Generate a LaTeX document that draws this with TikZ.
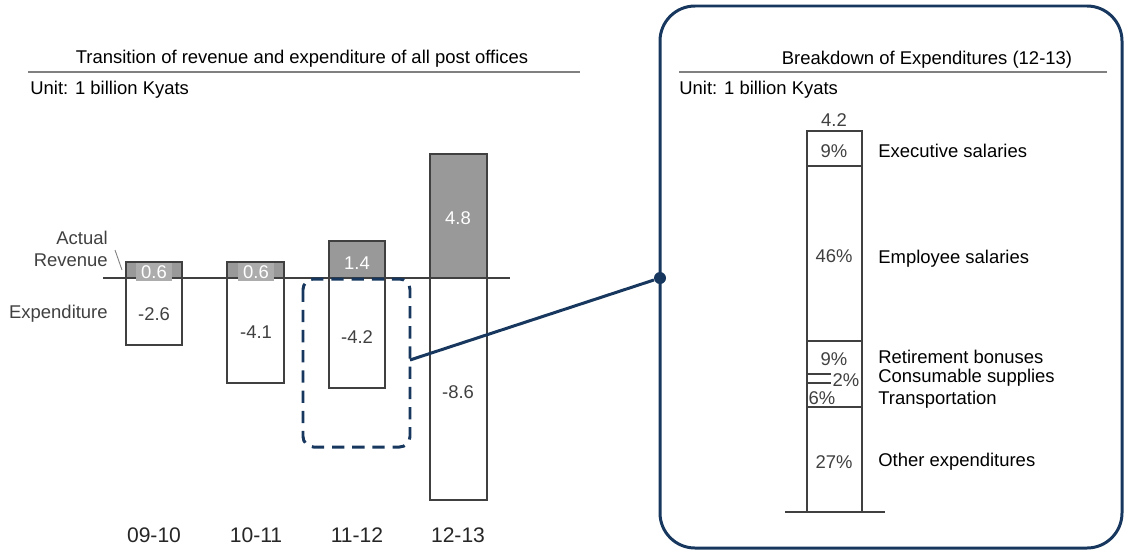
\documentclass[tikz,border=0pt]{standalone}
\usepackage{fontspec}
\setmainfont{Liberation Sans}
\usetikzlibrary{positioning}
\definecolor{navy}{RGB}{23,55,94}
\definecolor{revgray}{RGB}{153,153,153}
\definecolor{lblgray}{RGB}{172,172,172}
\definecolor{txtgray}{RGB}{64,64,64}
\tikzset{
	txt/.style={font=\fontsize{10.5}{12.5}\selectfont, inner sep=0pt, yshift=-1pt},
	num/.style={txt, text=txtgray},
	yearlbl/.style={font=\fontsize{12}{14}\selectfont, inner sep=0pt, text=black!85},
	bar/.style={draw=txtgray, line width=0.6pt},
	rev/.style={bar, fill=revgray},
	hdrline/.style={draw=gray, line width=1.7pt},
	navyline/.style={draw=navy, line width=1.7pt}
}

\begin{document}
\begin{tikzpicture}[x=0.02cm,y=-0.02cm]
		\useasboundingbox (0,0) rectangle (1126,552);
		% left chart: revenue and expenditure
		\node[txt] (titleL) at (302,57) {Transition of revenue and expenditure of all post offices};
		\draw[hdrline] (28,72) -- (580,72);
		\node[txt,anchor=west] (unitL) at (30,88) {Unit: 1 billion Kyats};
		\draw[bar] (126,278) rectangle (182,345);
		\draw[rev] (126,262) rectangle (182,278);
		\draw[bar] (227,278) rectangle (284,383);
		\draw[rev] (227,262) rectangle (284,278);
		\draw[bar] (329,278) rectangle (385,388);
		\draw[rev] (329,241) rectangle (385,278);
		\draw[bar] (430,278) rectangle (487,500);
		\draw[rev] (430,154) rectangle (487,278);
		\draw[txtgray, line width=0.6pt] (103,278) -- (510,278);
		\node[num,fill=lblgray,text=white,inner xsep=3pt,inner ysep=1.5pt] (rev0910) at (154,270) {0.6};
		\node[num,fill=lblgray,text=white,inner xsep=3pt,inner ysep=1.5pt] (rev1011) at (256,270) {0.6};
		\node[num,text=white] (rev1112) at (357,261) {1.4};
		\node[num,text=white] (rev1213) at (458,216) {4.8};
		\node[num] (exp0910) at (154,312) {-2.6};
		\node[num] (exp1011) at (256,330) {-4.1};
		\node[num] (exp1112) at (357,335) {-4.2};
		\node[num] (exp1213) at (458,390) {-8.6};
		\node[txt,align=right,anchor=east,text=txtgray] (actual) at (108,247) {Actual\\Revenue};
		\coordinate (actualA) at (115,250);
		\coordinate (actualB) at (122,270);
		\draw[gray, line width=0.5pt] (actualA) -- (actualB);
		\node[txt,anchor=east,text=txtgray] (expend) at (108,312) {Expenditure};
		\node[yearlbl] (y0910) at (154,535) {09-10};
		\node[yearlbl] (y1011) at (256,535) {10-11};
		\node[yearlbl] (y1112) at (357,535) {11-12};
		\node[yearlbl] (y1213) at (458,535) {12-13};
		% zoom box and connector
		\draw[navyline, dash pattern=on 7pt off 4.5pt, rounded corners=6pt] (303,279) rectangle (410,447);
		\coordinate (zoomL) at (410,360);
		\node[circle, fill=navy, inner sep=0pt, minimum size=0.24cm] (dot) at (660,278) {};
		\draw[navyline] (zoomL) -- (dot);
		% right panel: breakdown
		\draw[navy, line width=1.7pt, rounded corners=0.7cm] (660,6) rectangle (1122,548);
		\node[txt] (titleR) at (927,58) {Breakdown of Expenditures (12-13)};
		\draw[hdrline] (679,72) -- (1107,72);
		\node[txt,anchor=west] (unitR) at (679,88) {Unit: 1 billion Kyats};
		\node[num] (total) at (834,118) {4.2};
		\draw[bar] (807,131) rectangle (862,166);
		\draw[bar] (807,166) rectangle (862,341);
		\draw[bar] (807,341) rectangle (862,374);
		\draw[bar] (807,374) rectangle (862,383);
		\draw[bar] (807,383) rectangle (862,407);
		\draw[bar] (807,407) rectangle (862,512);
		\draw[txtgray, line width=0.6pt] (785,512) -- (885,512);
		\node[num] (p1) at (834,149) {9\%};
		\node[num] (p2) at (834,254) {46\%};
		\node[num] (p3) at (834,357) {9\%};
		\node[num,fill=white,inner sep=1pt] (p4) at (846,378) {2\%};
		\node[num] (p5) at (822,396) {6\%};
		\node[num] (p6) at (834,460) {27\%};
		\node[txt,anchor=west] (c1) at (878,149) {Executive salaries};
		\node[txt,anchor=west] (c2) at (878,257) {Employee salaries};
		\node[txt,anchor=west] (c3) at (878,355) {Retirement bonuses};
		\node[txt,anchor=west] (c4) at (878,376) {Consumable supplies};
		\node[txt,anchor=west] (c5) at (878,398) {Transportation};
		\node[txt,anchor=west] (c6) at (878,460) {Other expenditures};
	\end{tikzpicture}
\end{document}
